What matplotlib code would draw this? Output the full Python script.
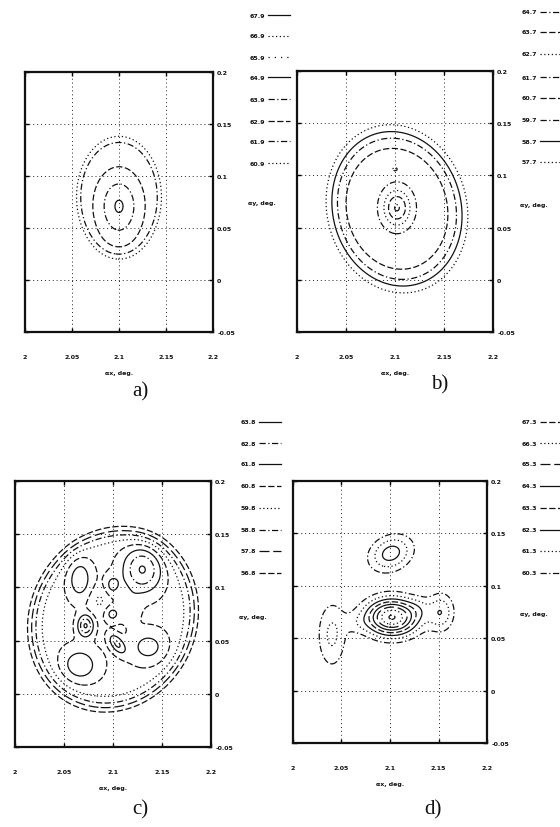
import numpy as np
import matplotlib
matplotlib.use("Agg")
import matplotlib.pyplot as plt
from matplotlib.lines import Line2D

# ---------------- data ----------------
x_ticks = [2.0, 2.05, 2.1, 2.15, 2.2]
x_ticklabels = ["2", "2.05", "2.1", "2.15", "2.2"]
y_ticks = [-0.05, 0.0, 0.05, 0.1, 0.15, 0.2]
y_ticklabels = ["-0.05", "0", "0.05", "0.1", "0.15", "0.2"]

# contour levels (legend values)
a_levels = [67.9, 66.9, 65.9, 64.9, 63.9, 62.9, 61.9, 60.9]
b_levels = [64.7, 63.7, 62.7, 61.7, 60.7, 59.7, 58.7, 57.7]
c_levels = [63.8, 62.8, 61.8, 60.8, 59.8, 58.8, 57.8, 56.8]
d_levels = [67.3, 66.3, 65.3, 64.3, 63.3, 62.3, 61.3, 60.3]

# field description: base value + bumps
# (centre x, centre y, width x, width y, amplitude, flatness power, rotation deg)
a_base = 60.0
a_cx = [2.100, 2.100, 2.100]
a_cy = [0.080, 0.071, 0.030]
a_sx = [0.045, 0.0207, 0.030]
a_sy = [0.058, 0.028, 0.020]
a_amp = [2.5, 2.5, 0.3]
a_pow = [6, 1, 1]
a_rot = [0, 0, 0]

b_base = 57.0
b_cx = [2.102, 2.102, 2.100]
b_cy = [0.068, 0.069, 0.106]
b_sx = [0.066, 0.0142, 0.003]
b_sy = [0.076, 0.0177, 0.002]
b_amp = [4.2, 3.6, 0.8]
b_pow = [4, 1, 1]
b_rot = [20, 0, 0]

c_base = 55.8
c_cx = [2.100, 2.130, 2.066, 2.099, 2.099, 2.072, 2.104, 2.117, 2.136, 2.066, 2.086]
c_cy = [0.070, 0.117, 0.108, 0.102, 0.075, 0.064, 0.047, 0.080, 0.044, 0.027, 0.088]
c_sx = [0.088, 0.020, 0.013, 0.008, 0.008, 0.008, 0.006, 0.010, 0.020, 0.020, 0.010]
c_sy = [0.080, 0.022, 0.020, 0.010, 0.008, 0.010, 0.011, 0.014, 0.016, 0.017, 0.012]
c_amp = [4.7, 3.4, 2.0, 1.5, 1.6, 3.4, 2.4, 1.0, 1.7, 2.0, -0.9]
c_pow = [6, 1, 1, 1, 1, 1, 1, 1, 1, 1, 1]
c_rot = [45, 0, 0, 0, 0, 0, 40, 0, 0, 0, 0]

d_base = 59.0
d_cx = [2.102, 2.040, 2.066, 2.153, 2.130, 2.101]
d_cy = [0.070, 0.053, 0.064, 0.075, 0.080, 0.131]
d_sx = [0.028, 0.016, 0.012, 0.014, 0.012, 0.024]
d_sy = [0.018, 0.034, 0.010, 0.019, 0.011, 0.017]
d_amp = [8.4, 2.5, 0.7, 3.0, 0.8, 3.8]
d_pow = [1, 1, 1, 1, 1, 1]
d_rot = [0, 0, 0, 0, 0, 20]

# ---------------- styles ----------------
LS = {
    "solid": "-",
    "dash": (0, (5, 2)),
    "dashdot": (0, (5, 2, 1, 2)),
    "dot": (0, (1, 2)),
    "longdash": (0, (8, 3)),
    "dotsparse": (0, (1, 4)),
}
a_styles = ["solid", "dot", "dotsparse", "solid", "dashdot", "dash", "dashdot", "dot"]
b_styles = ["dashdot", "dash", "dot", "dashdot", "dash", "dashdot", "solid", "dot"]
c_styles = ["solid", "dashdot", "solid", "dash", "dot", "dashdot", "longdash", "dash"]
d_styles = ["dash", "dot", "longdash", "solid", "dash", "solid", "dot", "dashdot"]


def field(X, Y, base, cx, cy, sx, sy, amp, pw, rot):
    Z = np.full_like(X, base)
    for i in range(len(cx)):
        th = np.deg2rad(rot[i])
        dx, dy = X - cx[i], Y - cy[i]
        u = dx * np.cos(th) + dy * np.sin(th)
        v = -dx * np.sin(th) + dy * np.cos(th)
        q = (u / sx[i]) ** 2 + (v / sy[i]) ** 2
        Z = Z + amp[i] * np.exp(-q ** pw[i])
    return Z


W, H = 560, 828
fig = plt.figure(figsize=(W / 100, H / 100), dpi=100)
fig.patch.set_facecolor("white")

gx = np.linspace(2.0, 2.2, 500)
gy = np.linspace(-0.05, 0.2, 600)
X, Y = np.meshgrid(gx, gy)

TXT = dict(fontsize=4.5, fontweight="bold", color="#111111")


def fx(px):
    return px / W


def fy(py):
    return 1 - py / H


panels = [
    dict(rect=(25, 73, 213, 333), base=a_base, cx=a_cx, cy=a_cy, sx=a_sx, sy=a_sy, amp=a_amp, pw=a_pow, rot=a_rot,
         levels=a_levels, styles=a_styles, leg_x=250, leg_y=[16, 37, 58, 78, 100, 122, 142, 164], ay_y=204,
         label="a)", lab_xy=(140, 392)),
    dict(rect=(297, 72, 493, 333), base=b_base, cx=b_cx, cy=b_cy, sx=b_sx, sy=b_sy, amp=b_amp, pw=b_pow, rot=b_rot,
         levels=b_levels, styles=b_styles, leg_x=522, leg_y=[13, 33, 55, 78, 99, 121, 142, 163], ay_y=205,
         label="b)", lab_xy=(440, 385)),
    dict(rect=(15, 482, 211, 748), base=c_base, cx=c_cx, cy=c_cy, sx=c_sx, sy=c_sy, amp=c_amp, pw=c_pow, rot=c_rot,
         levels=c_levels, styles=c_styles, leg_x=241, leg_y=[423, 444, 465, 487, 509, 531, 552, 574], ay_y=618,
         label="c)", lab_xy=(140, 810)),
    dict(rect=(293, 482, 487, 744), base=d_base, cx=d_cx, cy=d_cy, sx=d_sx, sy=d_sy, amp=d_amp, pw=d_pow, rot=d_rot,
         levels=d_levels, styles=d_styles, leg_x=522, leg_y=[423, 444, 465, 487, 509, 531, 552, 574], ay_y=615,
         label="d)", lab_xy=(433, 810)),
]

for p in panels:
    l, t, r, b = p["rect"]
    ax = fig.add_axes([fx(l), fy(b), fx(r) - fx(l), (b - t) / H])
    Z = field(X, Y, p["base"], p["cx"], p["cy"], p["sx"], p["sy"], p["amp"], p["pw"], p["rot"])
    for lev, st in zip(p["levels"], p["styles"]):
        ax.contour(X, Y, Z, levels=[lev], colors="#111111", linewidths=0.9, linestyles=[LS[st]])
    ax.set_xlim(2.0, 2.2)
    ax.set_ylim(-0.05, 0.2)
    ax.set_xticks(x_ticks)
    ax.set_xticklabels(x_ticklabels, **TXT)
    ax.set_yticks(y_ticks)
    ax.set_yticklabels(y_ticklabels, **TXT)
    ax.yaxis.tick_right()
    ax.tick_params(axis="both", direction="in", length=3, width=1.0, top=True, bottom=True,
                   left=True, right=True, labelleft=False, labelright=True)
    ax.tick_params(axis="x", pad=16)
    ax.tick_params(axis="y", pad=3)
    ax.grid(True, color="#222222", linestyle=(0, (1, 3)), linewidth=0.7)
    for s in ax.spines.values():
        s.set_linewidth(1.6)
        s.set_color("#111111")
    ax.set_xlabel("αx, deg.", labelpad=8, **TXT)

    lx = p["leg_x"]
    for lev, st, yy in zip(p["levels"], p["styles"], p["leg_y"]):
        fig.text(fx(lx), fy(yy), f"{lev:.1f}", va="center", ha="left", **TXT)
        fig.add_artist(Line2D([fx(lx + 18), fx(lx + 40)], [fy(yy), fy(yy)], color="#111111",
                              linewidth=0.9, linestyle=LS[st]))
    fig.text(fx(lx - 2), fy(p["ay_y"]), "αy, deg.", va="center", ha="left", **TXT)
    fig.text(fx(p["lab_xy"][0]), fy(p["lab_xy"][1]), p["label"], ha="center", va="center",
             fontsize=15, family="Liberation Serif", color="#111111")

fig.savefig("out.png", dpi=100, facecolor="white")
